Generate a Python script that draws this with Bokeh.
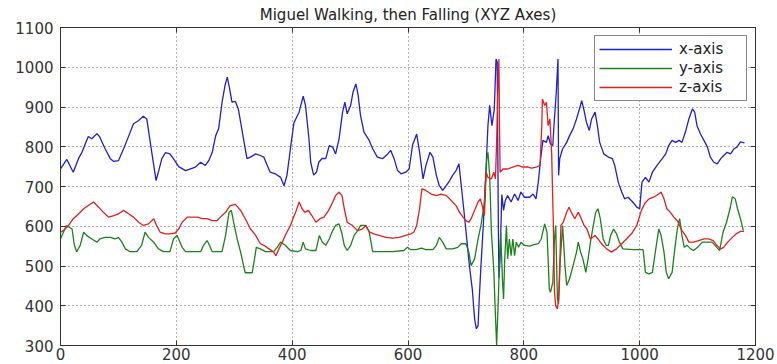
from bokeh.plotting import figure
from bokeh.models import Range1d, FixedTicker, LinearAxis, Legend, LegendItem
from bokeh.embed import file_html
from bokeh.resources import INLINE

title_text = "Miguel Walking, then Falling (XYZ Axes)"
series_names = ["x-axis", "y-axis", "z-axis"]
x_ticks = [0, 200, 400, 600, 800, 1000, 1200]
y_ticks = [300, 400, 500, 600, 700, 800, 900, 1000, 1100]

# x-axis (blue) samples: (sample index, value)
xaxis_t = [0, 11, 22, 31, 37, 48, 54, 63, 68, 77, 86, 92, 100, 109, 118, 126, 135, 143, 149, 155,
           161, 165, 169, 175, 181, 189, 195, 204, 216, 233, 242, 250, 256, 262, 268, 273, 279, 284,
           288, 292, 296, 302, 307, 311, 316, 322, 328, 337, 345, 351, 357, 362, 371, 380, 386, 391,
           397, 403, 409, 412, 419, 423, 429, 432, 437, 442, 446, 452, 458, 464, 470, 475, 481, 487,
           491, 495, 501, 505, 510, 514, 518, 524, 533, 539, 547, 556, 565, 570, 576, 582, 588, 596,
           602, 608, 615, 620, 626, 631, 638, 643, 649, 654, 660, 666, 672, 677, 683, 688, 692, 698,
           702, 706, 711, 715, 718, 721, 723, 726, 730, 735, 738, 741, 745, 749, 752, 754, 756, 757,
           759, 762, 765, 768, 772, 778, 784, 790, 795, 801, 810, 816, 821, 825, 829, 833, 839, 842,
           846, 850, 852, 854, 856, 859, 860, 862, 867, 874, 879, 885, 891, 896, 900, 904, 908, 913,
           917, 923, 927, 931, 938, 946, 953, 957, 963, 969, 974, 980, 988, 995, 1000, 1004, 1010,
           1016, 1022, 1030, 1039, 1045, 1050, 1056, 1062, 1068, 1073, 1079, 1085, 1091, 1095, 1099,
           1105, 1111, 1117, 1122, 1128, 1134, 1140, 1145, 1151, 1157, 1163, 1168, 1174, 1181]
xaxis_v = [744, 768, 736, 770, 786, 826, 820, 833, 824, 795, 770, 763, 765, 795, 828, 858, 866, 877, 870, 811,
           753, 715, 736, 770, 785, 782, 770, 750, 740, 749, 761, 753, 765, 786, 828, 845, 912, 954,
           975, 946, 912, 914, 895, 862, 820, 770, 774, 782, 778, 774, 753, 736, 732, 723, 702, 728,
           795, 860, 878, 887, 927, 904, 820, 761, 729, 736, 761, 771, 770, 803, 799, 782, 820, 887,
           912, 883, 904, 937, 958, 929, 879, 837, 816, 795, 774, 770, 782, 791, 770, 740, 732, 736,
           744, 805, 832, 786, 719, 753, 786, 774, 728, 702, 690, 702, 715, 728, 740, 757, 702, 619,
           560, 501, 442, 367, 342, 350, 417, 501, 602, 753, 853, 904, 853, 895, 1021, 1013, 600, 470,
           520, 680, 640, 665, 677, 661, 681, 665, 686, 673, 673, 681, 669, 711, 770, 816, 811, 828,
           807, 803, 853, 895, 937, 1021, 728, 770, 795, 811, 828, 845, 870, 895, 916, 891, 862, 841,
           870, 887, 853, 811, 782, 774, 770, 753, 711, 686, 669, 673, 661, 648, 644, 711, 723,
           711, 736, 753, 770, 782, 803, 816, 811, 816, 811, 837, 870, 895, 887, 853,
           832, 816, 799, 774, 761, 757, 770, 778, 786, 782, 795, 799, 812, 810]

# y-axis (green) samples
yaxis_t = [0, 5, 10, 20, 24, 28, 34, 40, 45, 54, 63, 68, 77, 86, 94, 100, 106, 112, 120, 132, 140, 146,
           152, 161, 169, 178, 189, 195, 201, 204, 210, 216, 233, 242, 247, 253, 256, 262, 279, 285, 291,
           295, 299, 305, 311, 316, 319, 331, 335, 338, 345, 354, 368, 374, 380, 388, 397, 409, 415, 419,
           423, 432, 441, 447, 452, 458, 464, 470, 475, 481, 486, 490, 495, 501, 507, 513, 518, 527, 533,
           539, 556, 573, 593, 599, 605, 614, 623, 631, 643, 649, 654, 660, 666, 677, 686, 692, 700, 705,
           709, 715, 721, 726, 732, 736, 738, 741, 744, 748, 751, 753, 756, 758, 760, 763, 765, 767, 770,
           772, 775, 778, 781, 784, 787, 791, 795, 801, 810, 816, 825, 830, 836, 840, 844, 846, 850, 853,
           855, 858, 860, 863, 867, 871, 874, 879, 885, 891, 894, 898, 902, 907, 911, 915, 920, 924, 928,
           932, 937, 942, 946, 950, 955, 960, 965, 971, 989, 1006, 1010, 1016, 1022, 1027, 1033, 1037,
           1042, 1046, 1050, 1056, 1060, 1065, 1069, 1073, 1077, 1082, 1088, 1093, 1100, 1108, 1117,
           1125, 1133, 1138, 1144, 1150, 1156, 1160, 1165, 1169, 1174, 1179]
yaxis_v = [568, 585, 602, 593, 552, 536, 552, 585, 577, 568, 560, 568, 572, 572, 568, 572, 560, 543, 536, 536, 552, 585,
           572, 560, 543, 536, 536, 568, 577, 568, 547, 536, 536, 536, 552, 564, 556, 536, 536, 577, 635,
           640, 610, 568, 535, 501, 483, 483, 518, 547, 543, 536, 536, 547, 560, 552, 539, 536, 539, 560,
           543, 539, 539, 577, 560, 552, 568, 589, 602, 606, 581, 552, 539, 552, 577, 589, 602, 602, 585,
           536, 536, 536, 539, 547, 541, 541, 545, 541, 541, 552, 572, 560, 543, 543, 547, 556, 556, 535,
           501, 518, 568, 602, 661, 770, 786, 728, 585, 493, 375, 300, 417, 518, 585, 468, 417, 518, 602,
           518, 568, 526, 568, 526, 560, 547, 560, 552, 550, 553, 556, 568, 606, 585, 442, 434, 459, 568,
           602, 417, 405, 518, 602, 501, 451, 468, 501, 535, 560, 535, 518, 484, 518, 560, 602, 635, 644,
           619, 568, 552, 552, 577, 593, 581, 560, 543, 541, 541, 484, 480, 484, 535, 593, 577,
           535, 484, 468, 484, 535, 593, 619, 577, 547, 552, 543, 539, 547, 560, 560,
           560, 547, 539, 585, 610, 644, 674, 669, 644, 619, 589]

# z-axis (red) samples
zaxis_t = [0, 5, 14, 22, 31, 40, 48, 57, 66, 74, 83, 92, 100, 109, 118, 126, 135, 143, 152, 161, 166, 172,
           181, 189, 198, 204, 210, 219, 227, 236, 245, 253, 262, 270, 276, 285, 293, 302, 311, 319, 328,
           337, 345, 351, 360, 368, 372, 377, 383, 388, 397, 403, 406, 412, 417, 422, 428, 434, 441, 448,
           455, 463, 470, 475, 481, 486, 490, 495, 504, 513, 521, 527, 534, 541, 550, 562, 573, 585, 596,
           605, 610, 615, 620, 624, 631, 640, 649, 657, 666, 672, 677, 683, 689, 695, 700, 705, 709, 715,
           721, 725, 728, 732, 735, 738, 744, 748, 751, 753, 755, 757, 758, 759, 764, 772, 781, 790, 798,
           807, 813, 822, 828, 831, 832, 836, 839, 842, 845, 848, 851, 853, 855, 858, 860, 862, 864, 868,
           874, 878, 882, 888, 894, 898, 904, 909, 915, 923, 928, 934, 943, 951, 960, 969, 977, 986, 995,
           1003, 1009, 1016, 1024, 1033, 1037, 1042, 1047, 1053, 1059, 1065, 1069, 1073, 1079, 1085,
           1093, 1102, 1111, 1119, 1127, 1133, 1140, 1145, 1152, 1160, 1167, 1174, 1180]
zaxis_v = [585, 589, 602, 619, 631, 644, 652, 661, 648, 635, 623, 627, 631, 640, 631, 623, 610, 602, 606, 619, 602, 585,
           581, 581, 583, 593, 610, 623, 623, 623, 619, 619, 614, 614, 623, 635, 652, 655, 640, 619, 593,
           577, 556, 552, 543, 535, 526, 543, 560, 577, 602, 625, 635, 661, 644, 635, 640, 627, 610, 619,
           623, 640, 661, 677, 686, 677, 644, 610, 602, 589, 593, 602, 585, 581, 577, 572, 570, 572, 577,
           581, 585, 602, 644, 694, 690, 681, 677, 681, 677, 669, 661, 652, 635, 623, 614, 610, 619, 640,
           661, 669, 652, 627, 736, 723, 719, 736, 719, 811, 937, 1021, 853, 736, 744, 744, 749, 753, 749,
           749, 746, 749, 753, 853, 920, 904, 912, 853, 870, 786, 602, 434, 400, 392, 417, 501, 602, 610,
           635, 648, 635, 619, 635, 623, 602, 593, 568, 577, 568, 556, 543, 535, 543, 556, 568, 581, 602,
           640, 658, 669, 673, 681, 686, 669, 644, 635, 623, 614, 602, 589, 577, 560,
           560, 564, 568, 568, 564, 552, 543, 547, 560, 572, 581, 587, 587]

colors = ["#1f1fd6", "#1c821c", "#e61e1e"]
FONT = "DejaVu Sans"

p = figure(width=777, height=364, output_backend="svg", toolbar_location=None,
           x_range=Range1d(0, 1200), y_range=Range1d(300, 1100),
           min_border_left=60, min_border_right=22, min_border_top=27, min_border_bottom=19,
           title=title_text, background_fill_color="white", border_fill_color="white")
p.title.align = "center"
p.title.text_font = FONT
p.title.text_font_style = "normal"
p.title.text_font_size = "15px"
p.title.text_color = "#222222"
p.title.standoff = 7

for ax in (p.xaxis[0], p.yaxis[0]):
    ax.major_tick_in = 5
    ax.major_tick_out = 0
    ax.minor_tick_line_color = None
    ax.axis_line_color = "#333333"
    ax.major_tick_line_color = "#333333"
    ax.major_label_text_font = FONT
    ax.major_label_text_font_size = "15px"
    ax.major_label_text_color = "#333333"
p.xaxis[0].ticker = FixedTicker(ticks=x_ticks)
p.yaxis[0].ticker = FixedTicker(ticks=y_ticks)
p.xaxis[0].major_label_standoff = 2
p.yaxis[0].major_label_standoff = 7

for loc, tk in (("above", x_ticks), ("right", y_ticks)):
    ax = LinearAxis(ticker=FixedTicker(ticks=tk), major_tick_in=5, major_tick_out=0,
                    minor_tick_line_color=None, major_label_text_font_size="1px",
                    major_label_text_color=None,
                    major_label_standoff=0, axis_line_color="#333333",
                    major_tick_line_color="#333333")
    p.add_layout(ax, loc)

p.xgrid.ticker = FixedTicker(ticks=x_ticks)
p.ygrid.ticker = FixedTicker(ticks=y_ticks)
for g in (p.xgrid[0], p.ygrid[0]):
    g.grid_line_color = "#555555"
    g.grid_line_dash = "1 3"
    g.grid_line_alpha = 0.9
p.outline_line_color = "#333333"

r1 = p.line(xaxis_t, xaxis_v, line_color=colors[0], line_width=1.3)
r2 = p.line(yaxis_t, yaxis_v, line_color=colors[1], line_width=1.3)
r3 = p.line(zaxis_t, zaxis_v, line_color=colors[2], line_width=1.3)

legend = Legend(items=[LegendItem(label=series_names[0], renderers=[r1]),
                       LegendItem(label=series_names[1], renderers=[r2]),
                       LegendItem(label=series_names[2], renderers=[r3])],
                location="top_right", margin=8, padding=4, spacing=1,
                glyph_width=73, glyph_height=16, label_height=16, label_standoff=7,
                label_width=63, border_line_color="#111111", border_line_width=1,
                label_text_font=FONT, label_text_font_size="15px", label_text_color="#222222",
                background_fill_color="white", background_fill_alpha=1.0)
p.add_layout(legend)

open("out.html", "w").write(file_html(p, INLINE))
